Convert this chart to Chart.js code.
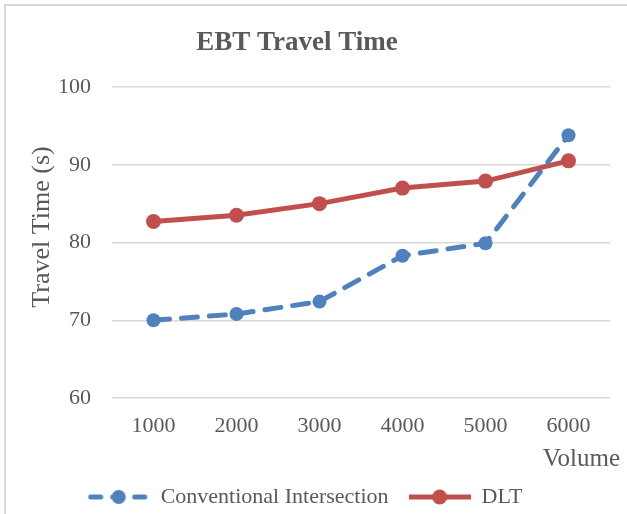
<!DOCTYPE html>
<html>
<head>
<meta charset="utf-8">
<script src="https://cdn.jsdelivr.net/npm/chart.js@4.4.1/dist/chart.umd.min.js"></script>
<style>
  html, body { margin: 0; padding: 0; background: #fff; }
  #wrap { width: 627px; height: 514px; position: relative; }
</style>
</head>
<body>
<div id="wrap"><canvas id="chart" width="627" height="514"></canvas></div>
<script>
// Data
const volumes = ['1000', '2000', '3000', '4000', '5000', '6000'];
const conventional = [70.0, 70.8, 72.4, 78.3, 79.9, 93.8];
const dlt = [82.7, 83.5, 85.0, 87.0, 87.9, 90.5];
const seriesNames = ['Conventional Intersection', 'DLT'];
const chartTitle = 'EBT Travel Time';
const yTitle = 'Travel Time (s)';
const xTitle = 'Volume';

const BLUE = '#4F81BD';
const RED = '#C0504D';
const TEXT = '#595959';
const GRID = '#D9D9D9';
const SERIF = "'Liberation Serif', 'Times New Roman', serif";

// Legend sample: line with a marker in the middle, drawn on a small canvas
function legendSample(color, dashed, radius) {
    const c = document.createElement('canvas');
    c.width = 62; c.height = 18;
    const g = c.getContext('2d');
    g.strokeStyle = color;
    g.fillStyle = color;
    g.lineWidth = 5;
    g.lineCap = dashed ? 'round' : 'butt';
    if (dashed) g.setLineDash([10, 12]);
    g.beginPath();
    g.moveTo(dashed ? 3 : 0, 9);
    g.lineTo(dashed ? 59 : 62, 9);
    g.stroke();
    g.beginPath();
    g.arc(31, 9, radius, 0, Math.PI * 2);
    g.fill();
    return c;
}
const samples = [legendSample(BLUE, true, 7), legendSample(RED, false, 7.5)];

// Frame, chart title and axis titles (placed like the Excel original)
const framePlugin = {
    id: 'frame',
    beforeDraw(chart) {
        const ctx = chart.ctx;
        ctx.save();
        ctx.strokeStyle = GRID;
        ctx.lineWidth = 2;
        ctx.beginPath();
        ctx.moveTo(5, 514);
        ctx.lineTo(5, 5);
        ctx.lineTo(627, 5);
        ctx.stroke();
        ctx.restore();
    },
    afterDraw(chart) {
        const ctx = chart.ctx;
        ctx.save();
        ctx.fillStyle = TEXT;
        ctx.textBaseline = 'middle';

        ctx.font = 'bold 27px ' + SERIF;
        ctx.textAlign = 'center';
        ctx.fillText(chartTitle, 297, 43);

        ctx.font = '25px ' + SERIF;
        ctx.textAlign = 'right';
        ctx.fillText(xTitle, 620, 459);

        ctx.font = '26px ' + SERIF;
        ctx.textAlign = 'center';
        ctx.translate(42, 227);
        ctx.rotate(-Math.PI / 2);
        ctx.fillText(yTitle, 0, 0);
        ctx.restore();
    }
};

const ctx = document.getElementById('chart').getContext('2d');
new Chart(ctx, {
    type: 'line',
    data: {
        labels: volumes,
        datasets: [
            {
                label: seriesNames[0],
                data: conventional,
                borderColor: BLUE,
                backgroundColor: BLUE,
                borderWidth: 5,
                borderDash: [16, 12],
                borderCapStyle: 'round',
                pointRadius: 7,
                pointBorderWidth: 0,
                tension: 0
            },
            {
                label: seriesNames[1],
                data: dlt,
                borderColor: RED,
                backgroundColor: RED,
                borderWidth: 5,
                pointRadius: 7.5,
                pointBorderWidth: 0,
                tension: 0
            }
        ]
    },
    options: {
        responsive: false,
        animation: false,
        layout: { padding: { left: 0, right: 17, top: 87, bottom: -4 } },
        plugins: {
            title: { display: false },
            tooltip: { enabled: false },
            legend: {
                position: 'bottom',
                labels: {
                    usePointStyle: true,
                    pointStyleWidth: 62,
                    padding: 20,
                    color: TEXT,
                    font: { family: SERIF, size: 22 },
                    generateLabels(chart) {
                        return chart.data.datasets.map((ds, i) => ({
                            text: ds.label,
                            pointStyle: samples[i],
                            fillStyle: ds.borderColor,
                            strokeStyle: ds.borderColor,
                            lineWidth: 0,
                            hidden: false,
                            datasetIndex: i,
                            fontColor: TEXT
                        }));
                    }
                }
            }
        },
        scales: {
            x: {
                offset: true,
                grid: { display: false },
                border: { display: false },
                ticks: { color: TEXT, padding: 7, font: { family: SERIF, size: 22 } },
                afterFit(scale) { scale.height = 68; }
            },
            y: {
                min: 60, max: 100,
                grid: { color: GRID, lineWidth: 1.5, drawTicks: false },
                border: { display: false },
                ticks: { stepSize: 10, color: TEXT, padding: 21, font: { family: SERIF, size: 22 } },
                afterFit(scale) { scale.width = 112; }
            }
        }
    },
    plugins: [framePlugin]
});
</script>
</body>
</html>
